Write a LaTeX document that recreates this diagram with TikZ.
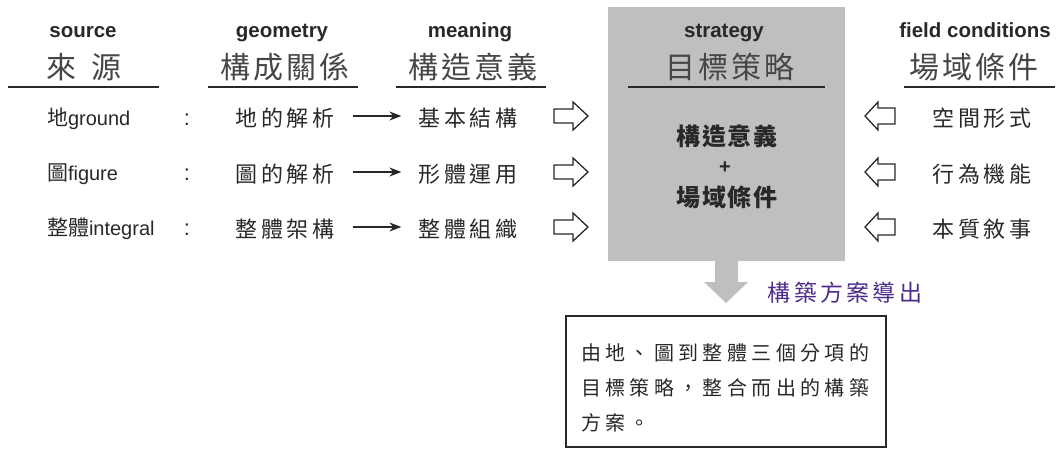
\documentclass[tikz,border=0pt]{standalone}
\usepackage{fontspec}
\setmainfont{Liberation Sans}
\newfontfamily\cjk{Noto Sans CJK TC}
\newfontfamily\cjkhead[LetterSpace=10]{Noto Sans CJK TC}
\newfontfamily\cjkrow[LetterSpace=17]{Noto Sans CJK TC}
\newfontfamily\cjkmid[LetterSpace=8]{Noto Sans CJK TC}
\newfontfamily\cjkpurp[LetterSpace=14]{Noto Sans CJK TC}
\newfontfamily\cjkbox[LetterSpace=22]{Noto Sans CJK TC}
\usetikzlibrary{arrows.meta}
\definecolor{boxgray}{RGB}{192,191,189}
\definecolor{ink}{RGB}{40,40,40}
\definecolor{headink}{RGB}{70,70,70}
\definecolor{purp}{RGB}{76,44,138}
\begin{document}
\begin{tikzpicture}[x=1pt,y=-1pt,
  every node/.style={inner sep=0pt, outer sep=0pt, text=ink},
  eng/.style={font=\fontsize{20.5}{24}\selectfont\bfseries, anchor=base},
  hzh/.style={font=\fontsize{30}{34}\selectfont\cjkhead, text=headink},
  rowzh/.style={font=\fontsize{22}{26}\selectfont\cjkrow},
  rowen/.style={font=\fontsize{20}{24}\selectfont, anchor=base west},
  midzh/.style={font=\fontsize{24}{28}\selectfont\cjkmid\bfseries},
  boxzh/.style={font=\fontsize{20}{24}\selectfont\cjkbox, anchor=west},
  rule/.style={draw=ink, line width=1.3pt},
  conn/.style={draw=ink, line width=1.2pt, -{Stealth[length=12pt,width=9pt]}},
  hollowr/.pic={\draw[ink, line width=1.3pt, line join=miter]
     (-17,-7) -- (2,-7) -- (2,-14) -- (17,0) -- (2,14) -- (2,7) -- (-17,7) -- cycle;},
  hollowl/.pic={\draw[ink, line width=1.3pt, line join=miter]
     (15,-8) -- (-2,-8) -- (-2,-14) -- (-15,0) -- (-2,14) -- (-2,8) -- (15,8) -- cycle;}
]
\useasboundingbox (0,0) rectangle (1062,448);

% strategy box
\node[fill=boxgray, minimum width=237pt, minimum height=254pt, anchor=north west] (stratbox) at (608,7) {};
\fill[boxgray] (715,258) -- (738,258) -- (738,282) -- (748,282) -- (726,303) -- (704,282) -- (715,282) -- cycle;

% headers
\node[eng] (hsrcE) at (83,37) {source};
\node[hzh] (hsrcZ) at (84,67) {來\hspace{16pt}源};
\draw[rule] (8,87) -- (159,87);
\node[eng] (hgeoE) at (282,37) {geometry};
\node[hzh] (hgeoZ) at (285,67) {構成關係};
\draw[rule] (208,87) -- (358,87);
\node[eng] (hmeaE) at (470,37) {meaning};
\node[hzh] (hmeaZ) at (473,67) {構造意義};
\draw[rule] (396,87) -- (546,87);
\node[eng] (hstrE) at (724,37) {strategy};
\node[hzh] (hstrZ) at (730,67) {目標策略};
\draw[rule] (628,87) -- (825,87);
\node[eng] (hfldE) at (975,37) {field conditions};
\node[hzh] (hfldZ) at (974,67) {場域條件};
\draw[rule] (904,87) -- (1055,87);

% row 1
\node[rowen] (src1) at (47,125) {{\fontsize{21}{25}\selectfont\cjk 地}ground};
\node[rowen, anchor=base, font=\fontsize{22}{26}\selectfont] (col1) at (187,125) {:};
\node[rowzh] (geo1) at (285,118) {地的解析};
\node[rowzh] (mea1) at (468,118) {基本結構};
\node[rowzh] (fld1) at (982,118) {空間形式};
% row 2
\node[rowen] (src2) at (47,180) {{\fontsize{21}{25}\selectfont\cjk 圖}figure};
\node[rowen, anchor=base, font=\fontsize{22}{26}\selectfont] (col2) at (187,180) {:};
\node[rowzh] (geo2) at (285,174) {圖的解析};
\node[rowzh] (mea2) at (468,174) {形體運用};
\node[rowzh] (fld2) at (982,174) {行為機能};
% row 3
\node[rowen] (src3) at (47,235) {{\fontsize{21}{25}\selectfont\cjk 整體}integral};
\node[rowen, anchor=base, font=\fontsize{22}{26}\selectfont] (col3) at (187,235) {:};
\node[rowzh] (geo3) at (285,229) {整體架構};
\node[rowzh] (mea3) at (468,229) {整體組織};
\node[rowzh] (fld3) at (982,229) {本質敘事};

% connectors
\draw[conn] ([xshift=18pt,yshift=2pt]geo1.east) -- ([xshift=-17pt,yshift=2pt]mea1.west);
\draw[conn] ([xshift=18pt,yshift=2pt]geo2.east) -- ([xshift=-17pt,yshift=2pt]mea2.west);
\draw[conn] ([xshift=18pt,yshift=2pt]geo3.east) -- ([xshift=-17pt,yshift=2pt]mea3.west);

% hollow arrows
\pic at (571,116) {hollowr};
\pic at (571,172) {hollowr};
\pic at (571,227) {hollowr};
\pic at (880,116) {hollowl};
\pic at (880,172) {hollowl};
\pic at (880,227) {hollowl};

% center text
\node[midzh] (c1) at (727,136) {構造意義};
\node[font=\fontsize{20}{24}\selectfont\bfseries] (cplus) at (725,168) {+};
\node[midzh] (c2) at (727,197) {場域條件};

% derive label
\node[font=\fontsize{23}{27}\selectfont\cjkpurp, text=purp] (derive) at (845,293) {構築方案導出};

% result box
\node[draw=ink, line width=1.2pt, minimum width=320pt, minimum height=131pt, anchor=north west] (result) at (566,316) {};
\node[boxzh] (t1) at (581,353) {由地、圖到整體三個分項的};
\node[boxzh] (t2) at (581,388) {目標策略，整合而出的構築};
\node[boxzh] (t3) at (581,423) {方案。};
\end{tikzpicture}
\end{document}
